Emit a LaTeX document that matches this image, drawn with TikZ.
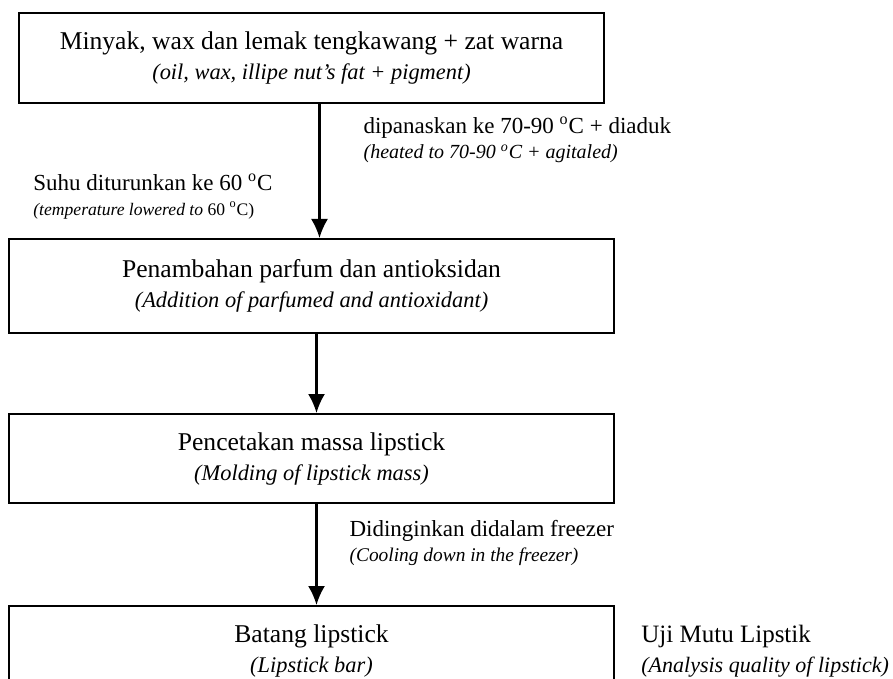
\documentclass[tikz,border=0pt]{standalone}
\usepackage{fontspec}
\setmainfont{Liberation Serif}
\usetikzlibrary{shapes.geometric, arrows.meta, positioning}

% italic english line in a smaller size
\newcommand{\engl}[2][11.2]{{\fontsize{#1}{14}\selectfont\itshape #2}}

\begin{document}
\begin{tikzpicture}[node distance=114pt]
    \tikzstyle{io} = [inner sep=0pt, align=left, font=\fontsize{11.5}{12.5}\selectfont]
    \tikzstyle{process} = [rectangle, minimum width=302.5pt, minimum height=47pt, text centered, align=center, draw=black, line width=1pt, font=\fontsize{12.8}{15}\selectfont]
    \tikzstyle{arrow} = [line width=1.1pt,-{Latex[length=9.5pt,width=8.5pt]}]

    \useasboundingbox (0,0) rectangle (446.5pt,-339.5pt);

    \node (in) [process, minimum width=292.5pt, minimum height=45pt] at (155.75pt,-29pt) {Minyak, wax dan lemak tengkawang + zat warna\\\engl{(oil, wax, illipe nut’s fat + pigment)}};
    \node (addperfume) [process, below of=in] {Penambahan parfum dan antioksidan\\\engl{(Addition of parfumed and antioxidant)}};
    \node (molding) [process, minimum height=44.5pt, node distance=86.25pt, below of=addperfume] {Pencetakan massa lipstick\\\engl{(Molding of lipstick mass)}};
    \node (bar) [process, minimum height=45pt, node distance=96.25pt, below of=molding] {Batang lipstick\\\engl{(Lipstick bar)}};

    \node (quality) [io, font=\fontsize{12.5}{15}\selectfont, right=13pt of bar] {Uji Mutu Lipstik\\\engl[11]{(Analysis quality of lipstick)}};

    \draw [arrow] ([xshift=4pt]in.south) -- node[io, anchor=west, pos=0.27, xshift=21.5pt] {dipanaskan ke 70-90 \textsuperscript{o}C + diaduk\\\engl[10]{(heated to 70-90 \textsuperscript{o}C + agitaled)}} node[io, anchor=east, pos=0.69, xshift=-23pt] {Suhu diturunkan ke 60 \textsuperscript{o}C\\{\fontsize{8.8}{11}\selectfont\textit{(temperature lowered to} 60 \textsuperscript{o}C)}} ([xshift=4pt]addperfume.north);
    \draw [arrow] ([xshift=2.5pt]addperfume.south) -- ([xshift=2.5pt]molding.north);
    \draw [arrow] ([xshift=2.5pt]molding.south) -- node[io, anchor=west, pos=0.39, xshift=16pt] {Didinginkan didalam freezer\\\engl[9.7]{(Cooling down in the freezer)}} ([xshift=2.5pt]bar.north);

\end{tikzpicture}
\end{document}
